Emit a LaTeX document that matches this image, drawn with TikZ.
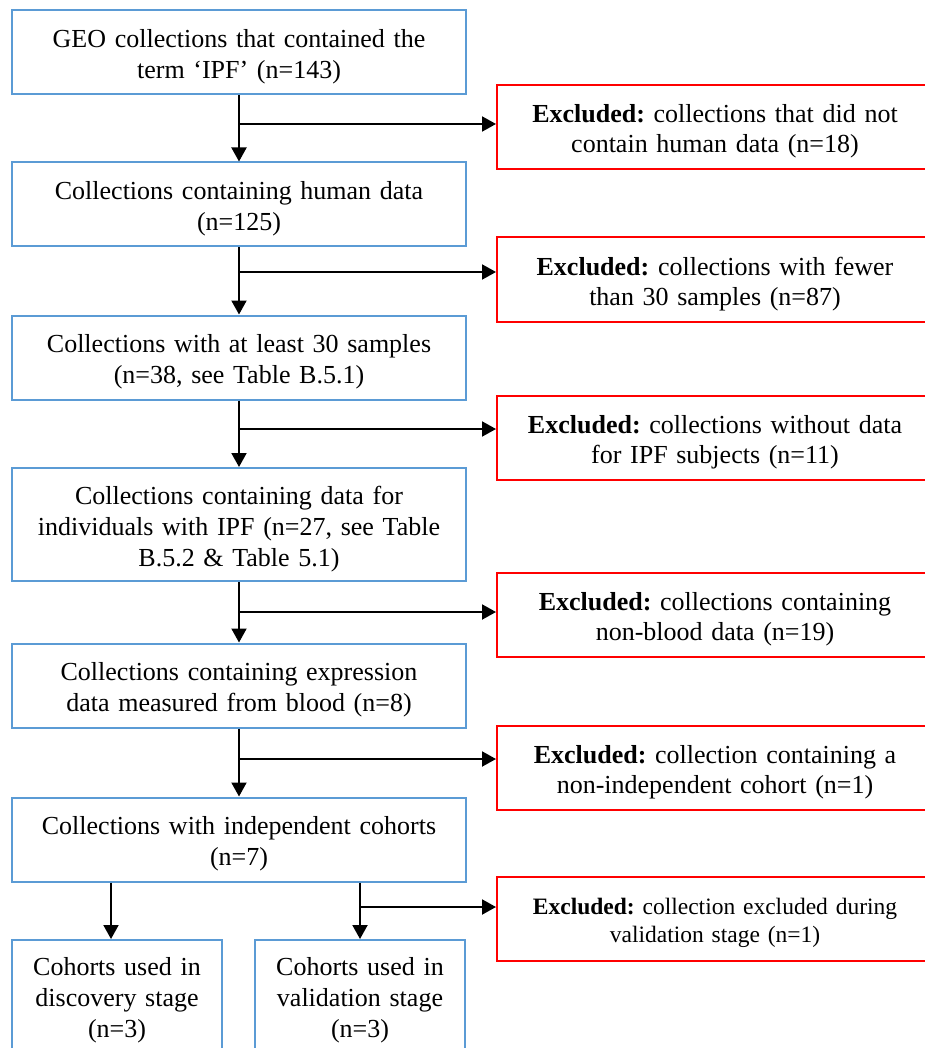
\documentclass[tikz,border=0pt]{standalone}
\usepackage{fontspec}
\setmainfont{Liberation Serif}
\frenchspacing
\usetikzlibrary{arrows.meta, positioning}
\definecolor{stageblue}{RGB}{91,155,213}
\definecolor{exclred}{RGB}{255,0,0}
\newcommand{\excl}{\textbf{Excluded:}}
\newcommand{\topstrut}{\rule{0pt}{1.04em}}
\tikzstyle{stage} = [draw=stageblue, line width=2pt, rectangle, align=center, text width=440pt, inner xsep=7pt, inner ysep=0pt, minimum height=84pt, font=\fontsize{26}{31}\selectfont, execute at begin node=\topstrut]
\tikzstyle{cohort} = [stage, text width=196pt, minimum height=111pt, anchor=north]
\tikzstyle{excluded} = [draw=exclred, line width=2pt, rectangle, align=center, text width=424pt, inner xsep=6pt, inner ysep=0pt, minimum height=84pt, font=\fontsize{26}{30}\selectfont, execute at begin node=\topstrut]
\tikzstyle{flow} = [line width=2pt, -{Triangle[length=14pt, width=15pt]}]

\begin{document}
\begin{tikzpicture}[x=1pt, y=-1pt]
	\useasboundingbox (0,0) rectangle (925,1048);
	% main column
	\node [stage] (geo) at (239,52) {GEO collections that contained the\\term `IPF' (n=143)};
	\node [stage] (human) at (239,204.5) {Collections containing human data\\(n=125)};
	\node [stage] (thirty) at (239,357.5) {Collections with at least 30 samples\\(n=38, see Table B.5.1)};
	\node [stage, minimum height=113pt] (ipf) at (239,524.5) {Collections containing data for\\individuals with IPF (n=27, see Table\\B.5.2 \& Table 5.1)};
	\node [stage] (blood) at (239,685.5) {Collections containing expression\\data measured from blood (n=8)};
	\node [stage] (indep) at (239,839.5) {Collections with independent cohorts\\(n=7)};
	\node [cohort] (disc) at (117,939) {Cohorts used in\\discovery stage\\(n=3)};
	\node [cohort] (valid) at (360,939) {Cohorts used in\\validation stage\\(n=3)};
	% excluded boxes
	\node [excluded] (exhuman) at (715,127) {\excl{} collections that did not\\contain human data (n=18)};
	\node [excluded] (exfew) at (715,279.5) {\excl{} collections with fewer\\than 30 samples (n=87)};
	\node [excluded] (exipf) at (715,438) {\excl{} collections without data\\for IPF subjects (n=11)};
	\node [excluded] (exblood) at (715,614.5) {\excl{} collections containing\\non-blood data (n=19)};
	\node [excluded] (exindep) at (715,768) {\excl{} collection containing a\\non-independent cohort (n=1)};
	\node [excluded, font=\fontsize{23.5}{28}\selectfont] (exvalid) at (715,919) {\excl{} collection excluded during\\validation stage (n=1)};
	% junctions
	\coordinate (j1) at (239,124);
	\coordinate (j2) at (239,272);
	\coordinate (j3) at (239,429);
	\coordinate (j4) at (239,612);
	\coordinate (j5) at (239,759);
	\coordinate (j6) at (360,907);
	% arrows
	\draw [flow] (geo) -- (human);
	\draw [flow] (human) -- (thirty);
	\draw [flow] (thirty) -- (ipf);
	\draw [flow] (ipf) -- (blood);
	\draw [flow] (blood) -- (indep);
	\draw [flow] (indep.south -| valid.north) -- (valid.north);
	\draw [flow] ([xshift=-6pt]indep.south -| disc.north) -- ([xshift=-6pt]disc.north);
	\draw [flow] (j1) -- (j1 -| exhuman.west);
	\draw [flow] (j2) -- (j2 -| exfew.west);
	\draw [flow] (j3) -- (j3 -| exipf.west);
	\draw [flow] (j4) -- (j4 -| exblood.west);
	\draw [flow] (j5) -- (j5 -| exindep.west);
	\draw [flow] (j6) -- (j6 -| exvalid.west);
\end{tikzpicture}
\end{document}
